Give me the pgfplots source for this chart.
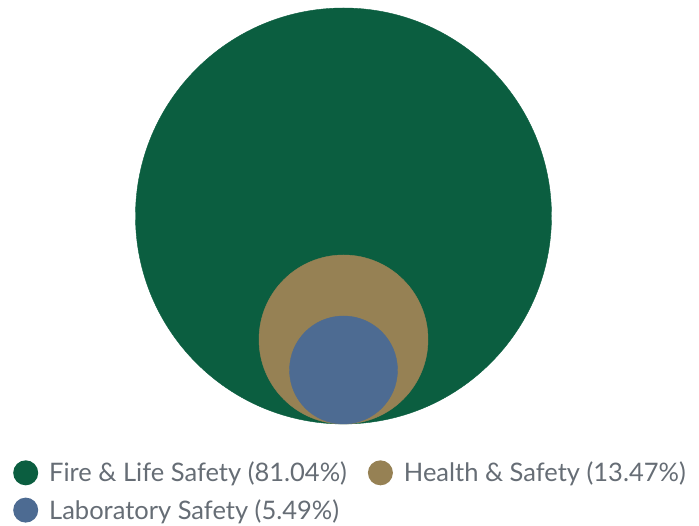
\documentclass[border=0pt]{standalone}
\usepackage{pgfplots}
\pgfplotsset{compat=1.18}
\usepackage{fontspec}
\setmainfont{Lato}
\definecolor{cgreen}{HTML}{0B5E40}
\definecolor{ctan}{HTML}{968154}
\definecolor{cblue}{HTML}{4D6B92}
\definecolor{ctext}{HTML}{666D75}
\begin{document}
\begin{tikzpicture}
\begin{axis}[
  scale only axis, width=699pt, height=526pt,
  xmin=0, xmax=699, ymin=0, ymax=526,
  hide axis, clip=false,
  legend columns=2,
  legend style={draw=none, fill=none, at={(axis cs:13,66)}, anchor=north west,
    font=\fontsize{25.5}{30}\selectfont, text=ctext,
    /tikz/every even column/.append style={column sep=19pt},
    row sep=12pt, inner sep=0pt},
  legend cell align=left,
]
\addplot[only marks, mark=*, mark size=208pt, color=cgreen, draw=none, fill=cgreen,
  legend image code/.code={\fill[cgreen] (12.5pt,0) circle (12.5pt); \path (34pt,0);}]
  coordinates {(343.5,310)};
\addlegendentry{Fire \& Life Safety (81.04\%)}
\addplot[only marks, mark=*, mark size=84.5pt, color=ctan, draw=none, fill=ctan,
  legend image code/.code={\fill[ctan] (12.5pt,0) circle (12.5pt); \path (34pt,0);}]
  coordinates {(343.5,186.5)};
\addlegendentry{Health \& Safety (13.47\%)}
\addplot[only marks, mark=*, mark size=54pt, color=cblue, draw=none, fill=cblue,
  legend image code/.code={\fill[cblue] (12.5pt,0) circle (12.5pt); \path (34pt,0);}]
  coordinates {(343.5,156)};
\addlegendentry{Laboratory Safety (5.49\%)}
\path[use as bounding box] (rel axis cs:0,0) rectangle (rel axis cs:1,1);
\end{axis}
\end{tikzpicture}
\end{document}
